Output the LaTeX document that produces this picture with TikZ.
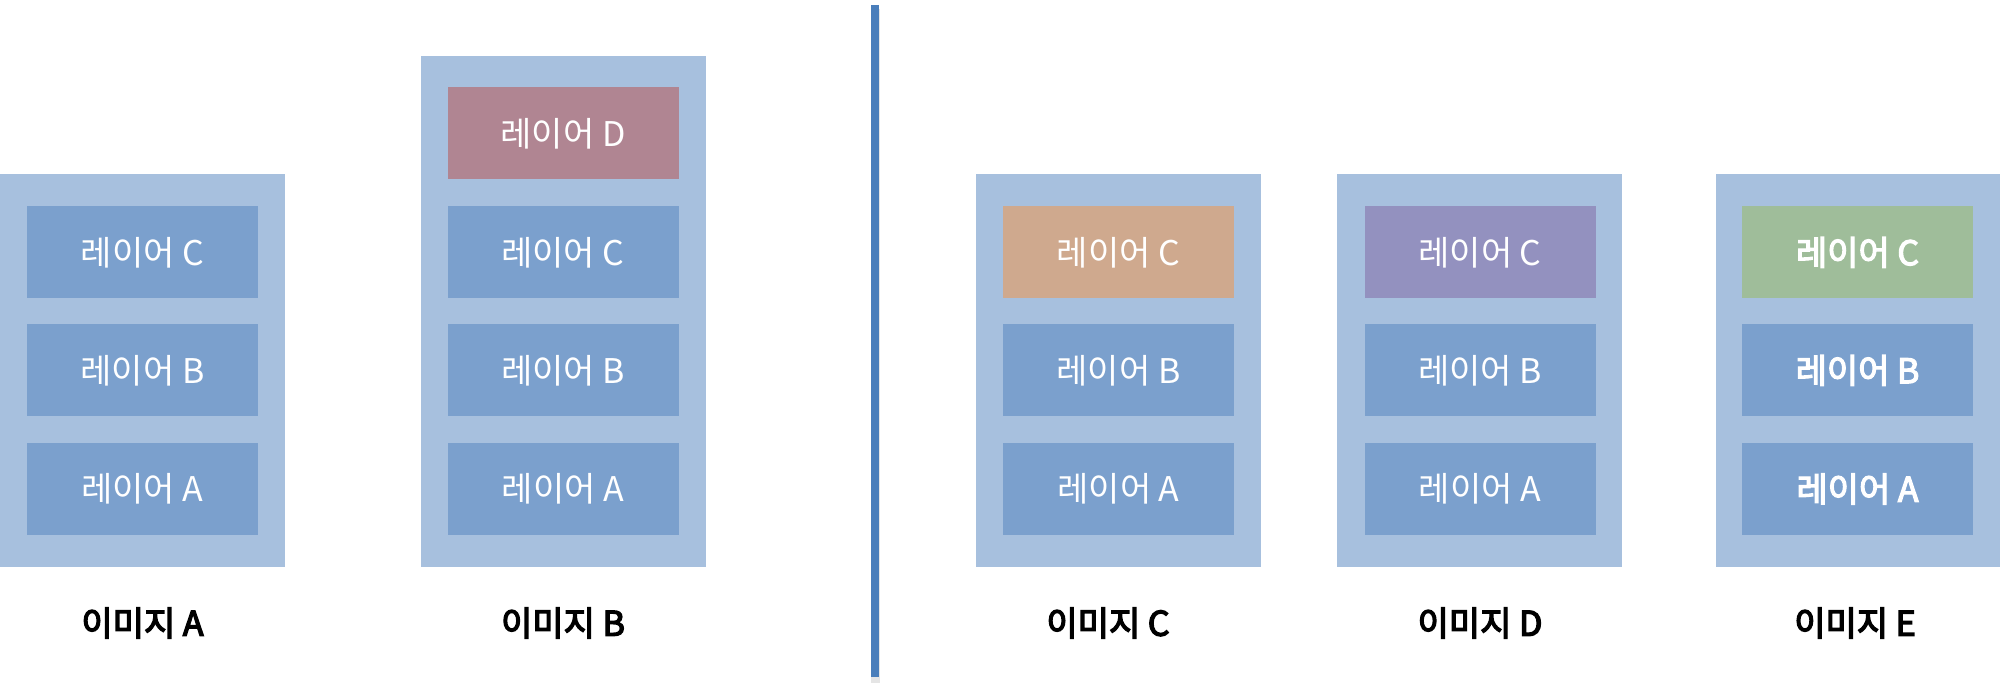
\documentclass[tikz,border=0pt]{standalone}
\usepackage{fontspec}
\setmainfont{Noto Sans CJK KR}
\newfontfamily\semifont[FakeBold=3.5]{Noto Sans CJK KR}
\newfontfamily\capfont[FakeBold=4]{Noto Sans CJK KR}
\definecolor{outerc}{HTML}{A7C0DE}
\definecolor{innerc}{HTML}{7BA0CD}
\definecolor{pinkc}{HTML}{B08592}
\definecolor{orangec}{HTML}{CFA98E}
\definecolor{purplec}{HTML}{9391BF}
\definecolor{greenc}{HTML}{9FBD9A}
\definecolor{linec}{HTML}{4A7EBB}
\tikzset{
  outerbox/.style={fill=outerc, draw=none, minimum width=142.5pt, minimum height=196.5pt, inner sep=0pt},
  layer/.style={fill=innerc, draw=none, minimum width=115.5pt, minimum height=46pt, inner sep=0pt, text=white, font=\fontsize{17}{20}\selectfont},
  semilayer/.style={layer, font=\fontsize{17}{20}\selectfont\semifont},
  caption/.style={text=black, font=\fontsize{17}{20}\selectfont\capfont, inner sep=0pt},
}
\begin{document}
\begin{tikzpicture}[x=0.5pt,y=-0.5pt]
\useasboundingbox (0,0) rectangle (2000,699);
% image A
\node[outerbox] (oa) at (142.5,370.5) {};
\node[layer] (ac) at (142.5,252.5) {레이어 C};
\node[layer] (ab) at (142.5,370.5) {레이어 B};
\node[layer] (aa) at (142.5,489) {레이어 A};
\node[caption] (la) at (142.5,623) {이미지 A};
% image B
\node[outerbox, minimum height=255.5pt] (ob) at (563,311.5) {};
\node[layer, fill=pinkc] (bd) at (563,133.5) {레이어 D};
\node[layer] (bc) at (563,252.5) {레이어 C};
\node[layer] (bb) at (563,370.5) {레이어 B};
\node[layer] (ba) at (563,489) {레이어 A};
\node[caption] (lb) at (563,623) {이미지 B};
% divider
\coordinate (dtop) at (875,5);
\coordinate (dbot) at (875,677);
\draw[line width=4.5pt, draw=black!10] ([yshift=-2pt]dtop) -- ([yshift=-3pt]dbot);
\draw[line width=4pt, draw=linec] (dtop) -- (dbot);
% image C
\node[outerbox] (oc) at (1118,370.5) {};
\node[layer, fill=orangec] (cc) at (1118.5,252.5) {레이어 C};
\node[layer] (cb) at (1118.5,370.5) {레이어 B};
\node[layer] (ca) at (1118.5,489) {레이어 A};
\node[caption] (lc) at (1108,623) {이미지 C};
% image D
\node[outerbox] (od) at (1479.5,370.5) {};
\node[layer, fill=purplec] (dc) at (1480,252.5) {레이어 C};
\node[layer] (db) at (1480,370.5) {레이어 B};
\node[layer] (da) at (1480,489) {레이어 A};
\node[caption] (ld) at (1480,623) {이미지 D};
% image E
\node[outerbox] (oe) at (1858,370.5) {};
\node[semilayer, fill=greenc] (ec) at (1857.5,252.5) {레이어 C};
\node[semilayer] (eb) at (1857.5,370.5) {레이어 B};
\node[semilayer] (ea) at (1857.5,489) {레이어 A};
\node[caption] (le) at (1855,623) {이미지 E};
\end{tikzpicture}
\end{document}
